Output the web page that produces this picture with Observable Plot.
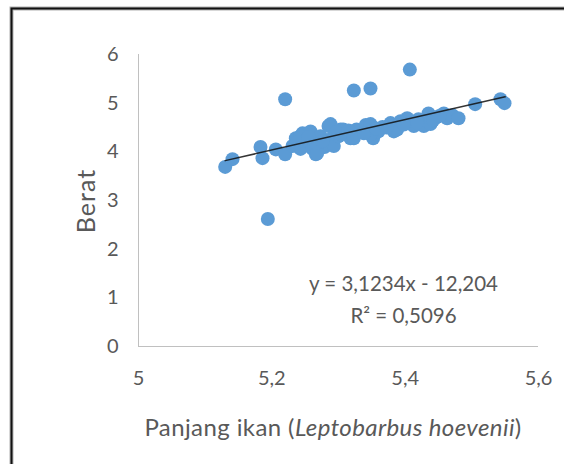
<!DOCTYPE html>
<html>
<head>
<meta charset="utf-8">
<script src="https://cdn.jsdelivr.net/npm/d3@7"></script>
<script src="https://cdn.jsdelivr.net/npm/@observablehq/plot@0.6"></script>
<style>
  html, body { margin: 0; padding: 0; background: #fff; overflow: hidden; width: 564px; height: 464px; }
  #chart { position: absolute; left: 0; top: 0; width: 564px; height: 464px; overflow: hidden; }
  #chart svg { display: block; }
</style>
</head>
<body>
<div id="chart"></div>
<script>
// Panjang ikan (log length) values
const panjang = [
  5.130, 5.141, 5.183, 5.186, 5.194, 5.206, 5.220, 5.220, 5.236, 5.231,
  5.243, 5.246, 5.252, 5.258, 5.261, 5.266, 5.270, 5.273, 5.279, 5.285,
  5.288, 5.293, 5.300, 5.303, 5.307, 5.313, 5.318, 5.323, 5.327, 5.333,
  5.341, 5.348, 5.348, 5.352, 5.360, 5.366, 5.378, 5.383, 5.388, 5.393,
  5.403, 5.407, 5.413, 5.420, 5.428, 5.435, 5.438, 5.447, 5.458, 5.463,
  5.471, 5.480, 5.505, 5.543, 5.549, 5.288, 5.243, 5.268, 5.266, 5.303,
  5.323, 5.348, 5.348, 5.238, 5.255, 5.276, 5.296, 5.315, 5.338, 5.356,
  5.372, 5.398, 5.418, 5.442, 5.452
];
// Berat (log weight) values
const berat = [
  3.69, 3.85, 4.10, 3.87, 2.62, 4.05, 3.95, 5.08, 4.28, 4.12,
  4.06, 4.38, 4.22, 4.42, 4.06, 3.95, 4.18, 4.32, 4.10, 4.53,
  4.26, 4.12, 4.32, 4.46, 4.46, 4.36, 4.28, 5.26, 4.46, 4.42,
  4.55, 4.57, 5.30, 4.28, 4.42, 4.51, 4.59, 4.42, 4.46, 4.63,
  4.69, 5.69, 4.53, 4.67, 4.53, 4.79, 4.57, 4.71, 4.79, 4.69,
  4.75, 4.69, 4.98, 5.08, 5.00, 4.57, 4.32, 3.97, 4.18, 4.36,
  4.28, 4.36, 4.53, 4.20, 4.30, 4.22, 4.40, 4.44, 4.38, 4.48,
  4.50, 4.56, 4.60, 4.65, 4.74
];
// Trendline (from the printed equation)
const slope = 3.1234;
const intercept = -12.204;
const trendRange = [5.13, 5.55];
const equationLines = ["y = 3,1234x - 12,204", "R\u00B2 = 0,5096"];

// Axes
const xTicks = [5, 5.2, 5.4, 5.6];
const xTickLabels = ["5", "5,2", "5,4", "5,6"];
const yTicks = [0, 1, 2, 3, 4, 5, 6];
const yTickLabels = ["0", "1", "2", "3", "4", "5", "6"];
const yTitle = "Berat";
const xTitleParts = [["Panjang ikan (", false], ["Leptobarbus hoevenii", true], [")", false]];

const points = panjang.map((x, i) => ({x, y: berat[i]}));
const trend = trendRange.map(x => ({x, y: slope * x + intercept}));

const gray = "#595959";
const font = "Lato, 'Open Sans', sans-serif";
const plot = Plot.plot({
  width: 564,
  height: 464,
  marginLeft: 138,
  marginRight: 26,
  marginTop: 54,
  marginBottom: 118,
  style: {fontFamily: font, background: "#fff"},
  x: {domain: [5, 5.6]},
  y: {domain: [0, 6]},
  marks: [
    Plot.ruleX([5], {stroke: "#c0c0c0", strokeWidth: 1}),
    Plot.ruleY([0], {stroke: "#c0c0c0", strokeWidth: 1}),
    Plot.axisY({ticks: yTicks, tickFormat: (d) => yTickLabels[yTicks.indexOf(d)], tickSize: 0, tickPadding: 20, fontSize: 20, color: gray, label: null}),
    Plot.axisX({ticks: xTicks, tickFormat: (d) => xTickLabels[xTicks.indexOf(d)], tickSize: 0, tickPadding: 24, fontSize: 20, color: gray, label: null}),
    Plot.dot(points, {x: "x", y: "y", r: 7, fill: "#5B9BD5", fillOpacity: 1, stroke: "none"}),
    Plot.line(trend, {x: "x", y: "y", stroke: "#111", strokeWidth: 1.5, strokeOpacity: 0.85}),
    Plot.text([equationLines.join("\n")], {x: 5.3975, y: 1.02, text: d => d, fontSize: 20.5, fill: gray, textAnchor: "middle", lineHeight: 1.55})
  ]
});
document.getElementById("chart").appendChild(plot);

const svg = d3.select(plot);
// outer chart-area frame (top and left edges visible, rest is cropped)
svg.append("path")
  .attr("d", "M11.5,464 V8.5 H564")
  .attr("fill", "none")
  .attr("stroke", "#b0b0b0")
  .attr("stroke-width", 4);
svg.append("path")
  .attr("d", "M11.5,464 V8.5 H564")
  .attr("fill", "none")
  .attr("stroke", "#111")
  .attr("stroke-width", 2);
svg.append("text")
  .attr("transform", "translate(89,201) rotate(-90)")
  .attr("text-anchor", "middle")
  .attr("dominant-baseline", "middle")
  .attr("font-family", font)
  .attr("font-size", 25)
  .attr("letter-spacing", 1)
  .attr("fill", gray)
  .text(yTitle);
const xt = svg.append("text")
  .attr("x", 333)
  .attr("y", 436)
  .attr("text-anchor", "middle")
  .attr("font-family", font)
  .attr("font-size", 24)
  .attr("letter-spacing", 0.4)
  .attr("fill", gray);
xTitleParts.forEach(([t, it]) => xt.append("tspan").attr("font-style", it ? "italic" : "normal").text(t));
</script>
</body>
</html>
